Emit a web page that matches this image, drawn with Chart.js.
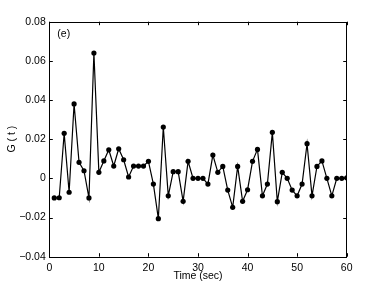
<!DOCTYPE html>
<html><head><meta charset="utf-8">
<script src="https://cdn.jsdelivr.net/npm/chart.js@4"></script>
<style>html,body{margin:0;padding:0;background:#fff;}#wrap{width:382px;height:287px;}</style>
</head><body><div id="wrap"><canvas id="c" width="382" height="287"></canvas></div>
<script>
const times = [1,2,3,4,5,6,7,8,9,10,11,12,13,14,15,16,17,18,19,20,21,22,23,24,25,26,27,28,29,30,31,32,33,34,35,36,37,38,39,40,41,42,43,44,45,46,47,48,49,50,51,52,53,54,55,56,57,58,59,60];
const gValues = [-0.0100,-0.0099,0.0230,-0.0071,0.0380,0.0082,0.0039,-0.0100,0.0640,0.0031,
0.0089,0.0146,0.0063,0.0151,0.0095,0.0007,0.0063,0.0063,0.0063,0.0087,
-0.0029,-0.0206,0.0262,-0.0089,0.0034,0.0034,-0.0117,0.0087,0.0000,0.0000,
0.0000,-0.0029,0.0119,0.0031,0.0061,-0.0060,-0.0148,0.0061,-0.0117,-0.0058,
0.0087,0.0148,-0.0089,-0.0029,0.0235,-0.0119,0.0031,0.0000,-0.0060,-0.0089,
-0.0029,0.0177,-0.0089,0.0061,0.0089,0.0000,-0.0089,0.0000,0.0000,0.0003];
const xTicks = [0,10,20,30,40,50,60];
const yTicks = [-0.04,-0.02,0,0.02,0.04,0.06,0.08];
const panelLabel = '(e)';
const xTitle = 'Time (sec)';
const yTitle = 'G ( t )';

const FONT = {family:'"Liberation Sans", Arial, Helvetica, sans-serif', size:10.5};
const fmtY = v => { if (Math.abs(v) < 1e-9) return '0'; const s = Math.abs(v).toFixed(2); return (v<0?'\u2212':'') + s; };

const boxPlugin = {
  id:'box',
  afterDraw(chart){
    const {ctx, chartArea:a, scales} = chart;
    ctx.save();
    ctx.strokeStyle='#000'; ctx.lineWidth=1;
    ctx.strokeRect(Math.round(a.left)+0.5, Math.round(a.top)+0.5, Math.round(a.right-a.left), Math.round(a.bottom-a.top));
    const L=3.5;
    ctx.beginPath();
    xTicks.forEach(t=>{ const x=Math.round(scales.x.getPixelForValue(t))+0.5;
      ctx.moveTo(x,a.bottom); ctx.lineTo(x,a.bottom-L); ctx.moveTo(x,a.top); ctx.lineTo(x,a.top+L); });
    yTicks.forEach(t=>{ const y=Math.round(scales.y.getPixelForValue(t))+0.5;
      ctx.moveTo(a.left,y); ctx.lineTo(a.left+L,y); ctx.moveTo(a.right,y); ctx.lineTo(a.right-L,y); });
    ctx.stroke();
    ctx.fillStyle='#000'; ctx.font = FONT.size+'px '+FONT.family; ctx.textBaseline='middle'; ctx.textAlign='left';
    ctx.fillText(panelLabel, a.left+8, a.top+12.5);
    ctx.restore();
  }
};

new Chart(document.getElementById('c'), {
  type:'line',
  data:{ datasets:[{ data: times.map((t,i)=>({x:t,y:gValues[i]})),
    borderColor:'#000', backgroundColor:'#000', borderWidth:1.2,
    pointRadius:2.6, pointHoverRadius:2.6, pointBackgroundColor:'#000', pointBorderWidth:0, tension:0 }]},
  options:{
    responsive:false, animation:false, devicePixelRatio:1,
    layout:{padding:{left:0, top:21.7, right:35.3, bottom:0}},
    plugins:{legend:{display:false}, tooltip:{enabled:false}},
    scales:{
      x:{ type:'linear', min:0, max:60,
        afterBuildTicks(s){ s.ticks = xTicks.map(v=>({value:v})); },
        afterFit(s){ s.height = 30.3; },
        grid:{display:false, drawTicks:false}, border:{display:false},
        ticks:{ color:'#000', font:FONT, padding:5, maxRotation:0, callback:v=>String(v) },
        title:{ display:true, text:xTitle, color:'#000', font:FONT, padding:{top:0,bottom:4.5} } },
      y:{ type:'linear', min:-0.04, max:0.08,
        afterBuildTicks(s){ s.ticks = yTicks.map(v=>({value:v})); },
        afterFit(s){ s.width = 49.3; },
        grid:{display:false, drawTicks:false}, border:{display:false},
        ticks:{ color:'#000', font:FONT, padding:3.5, callback:v=>fmtY(v) },
        title:{ display:true, text:yTitle, color:'#000', font:FONT, padding:{top:5.5,bottom:0} } }
    }
  },
  plugins:[boxPlugin]
});
</script></body></html>
